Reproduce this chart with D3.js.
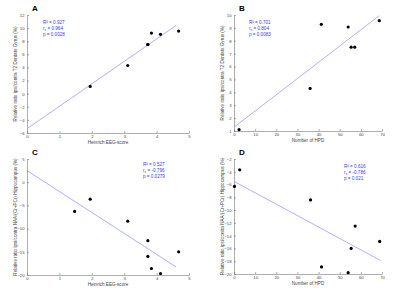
<!DOCTYPE html>
<html lang="en">
    <head>
        <meta charset="utf-8">
        <title>EEG score / HPD correlations</title>
        <script src="https://d3js.org/d3.v7.min.js"></script>
        <style type="text/css">
            body { margin: 0; background: #fff; }
            .tick text { font-size: 4.2px; font-family: "Liberation Sans", Arial, sans-serif; fill: #444; }
            .axlabel { font-size: 4.6px; font-family: "Liberation Sans", Arial, sans-serif; fill: #444; }
            .stats { font-size: 4.6px; font-family: "Liberation Sans", Arial, sans-serif; fill: #3b3bff; }
            .letter { font-size: 8px; font-weight: bold; font-family: "Liberation Sans", Arial, sans-serif; }
        </style>
    </head>
    <body>
        <script type="text/javascript">

            //Data
            const eegA = [1.95, 3.11, 3.73, 3.73, 3.84, 4.12, 4.68];
            const t2A = [1.1, 4.3, 7.5, 7.5, 9.25, 9.05, 9.55];

            const hpdB = [2.4, 36, 55.4, 57.1, 41.3, 54, 68.7];
            const t2B = [1.1, 4.3, 7.5, 7.5, 9.28, 9.07, 9.56];

            const eegC = [1.47, 1.95, 3.11, 3.73, 3.73, 3.84, 4.12, 4.68];
            const naaC = [-6.3, -3.65, -8.4, -12.6, -16.0, -18.6, -19.7, -15.0];

            const hpdD = [0.2, 2.7, 36.2, 41.4, 54, 55.4, 57.3, 68.9];
            const naaD = [-6.3, -3.7, -8.4, -18.9, -19.8, -16.0, -12.5, -14.9];

            //fit lines: [x0, y0, x1, y1]
            const fitA = [0, -5.35, 4.6, 10.4];
            const fitB = [0, 1.29, 68.7, 9.95];
            const fitC = [0, 2.5, 4.6, -18.25];
            const fitD = [0, -5.5, 69.4, -17.9];

            const statsA = ["R² = 0.927", "r_s = 0.964", "p = 0.0028"];
            const statsB = ["R² = 0.701", "r_s = 0.804", "p = 0.0083"];
            const statsC = ["R² = 0.527", "r_s = -0.796", "p = 0.0279"];
            const statsD = ["R² = 0.616", "r_s = -0.786", "p = 0.021"];

            const w = 400;
            const h = 291;
            const lineColor = "#9a9aff";

            const svg = d3.select("body")
                    .append("svg")
                    .attr("width", w)
                    .attr("height", h);

            //one panel
            function panel(opt) {
                const x = d3.scaleLinear().domain(opt.xdom).range([opt.x0, opt.x1]);
                const y = d3.scaleLinear().domain(opt.ydom).range([opt.y1, opt.y0]);
                const g = svg.append("g");

                const xAxis = d3.axisBottom(x).tickValues(opt.xticks).tickFormat(d3.format("d"))
                                .tickSizeInner(-2).tickSizeOuter(0).tickPadding(2.5);
                const yAxis = d3.axisLeft(y).tickValues(opt.yticks).tickFormat(d3.format("d"))
                                .tickSizeInner(-2).tickSizeOuter(0).tickPadding(2.5);

                g.append("g").attr("transform", "translate(0," + opt.y1 + ")").call(xAxis);
                g.append("g").attr("transform", "translate(" + opt.x0 + ",0)").call(yAxis);
                g.selectAll(".domain, .tick line").attr("stroke", "#777").attr("stroke-width", 0.6);

                //fit line
                g.append("line")
                    .attr("x1", x(opt.fit[0])).attr("y1", y(opt.fit[1]))
                    .attr("x2", x(opt.fit[2])).attr("y2", y(opt.fit[3]))
                    .attr("stroke", lineColor).attr("stroke-width", 0.8);

                //points
                g.selectAll("circle.pt")
                    .data(opt.xs)
                    .enter()
                    .append("circle")
                    .attr("class", "pt")
                    .attr("cx", d => x(d))
                    .attr("cy", (d, i) => y(opt.ys[i]))
                    .attr("r", 1.6)
                    .attr("fill", "#000");

                //labels
                g.append("text").attr("class", "axlabel")
                    .attr("x", (opt.x0 + opt.x1) / 2).attr("y", opt.y1 + 10.5)
                    .attr("text-anchor", "middle").text(opt.xlabel);
                g.append("text").attr("class", "axlabel")
                    .attr("transform", "translate(" + (opt.x0 - 10.5) + "," + ((opt.y0 + opt.y1) / 2) + ") rotate(-90)")
                    .attr("text-anchor", "middle").text(opt.ylabel);
                g.append("text").attr("class", "letter")
                    .attr("x", opt.x0 + 5).attr("y", opt.y0 - 4).text(opt.letter);

                //stats
                const st = g.append("text").attr("class", "stats");
                opt.stats.forEach((s, i) => {
                    const t = st.append("tspan").attr("x", opt.sx).attr("y", opt.sy + i * 6);
                    if (s.startsWith("r_s")) {
                        t.text("r");
                        t.append("tspan").attr("dy", 1.3).attr("font-size", "3.4px").text("s");
                        t.append("tspan").attr("dy", -1.3).text(s.slice(3));
                    } else {
                        t.text(s);
                    }
                });
            }

            panel({
                letter: "A", x0: 27, x1: 189, y0: 15, y1: 133,
                xdom: [0, 5], ydom: [-6, 12],
                xticks: d3.range(0, 6, 1), yticks: d3.range(-6, 13, 2),
                xs: eegA, ys: t2A, fit: fitA, stats: statsA, sx: 43, sy: 24,
                xlabel: "Heinrich EEG-score",
                ylabel: "Relative ratio ipsi/contra T2 Dentate Gyrus (%)"
            });

            panel({
                letter: "B", x0: 234, x1: 382, y0: 15, y1: 131,
                xdom: [0, 70], ydom: [1, 10],
                xticks: d3.range(0, 71, 10), yticks: d3.range(1, 11, 1),
                xs: hpdB, ys: t2B, fit: fitB, stats: statsB, sx: 249, sy: 24,
                xlabel: "Number of HPD",
                ylabel: "Relative ratio ipsi/contra T2 Dentate Gyrus (%)"
            });

            panel({
                letter: "C", x0: 27, x1: 189, y0: 159, y1: 275,
                xdom: [0, 5], ydom: [-20, 5],
                xticks: d3.range(0, 6, 1), yticks: d3.range(-20, 6, 5),
                xs: eegC, ys: naaC, fit: fitC, stats: statsC, sx: 143, sy: 166,
                xlabel: "Heinrich EEG-score",
                ylabel: "Relative ratio ipsi/contra NAA/(Cr+PCr) Hippocampus (%)"
            });

            panel({
                letter: "D", x0: 234, x1: 382, y0: 159, y1: 274,
                xdom: [0, 70], ydom: [-20, -2],
                xticks: d3.range(0, 71, 10), yticks: d3.range(-20, -1, 2),
                xs: hpdD, ys: naaD, fit: fitD, stats: statsD, sx: 344, sy: 168,
                xlabel: "Number of HPD",
                ylabel: "Relative ratio ipsi/contra NAA/(Cr+PCr) Hippocampus (%)"
            });

        </script>
    </body>
</html>
